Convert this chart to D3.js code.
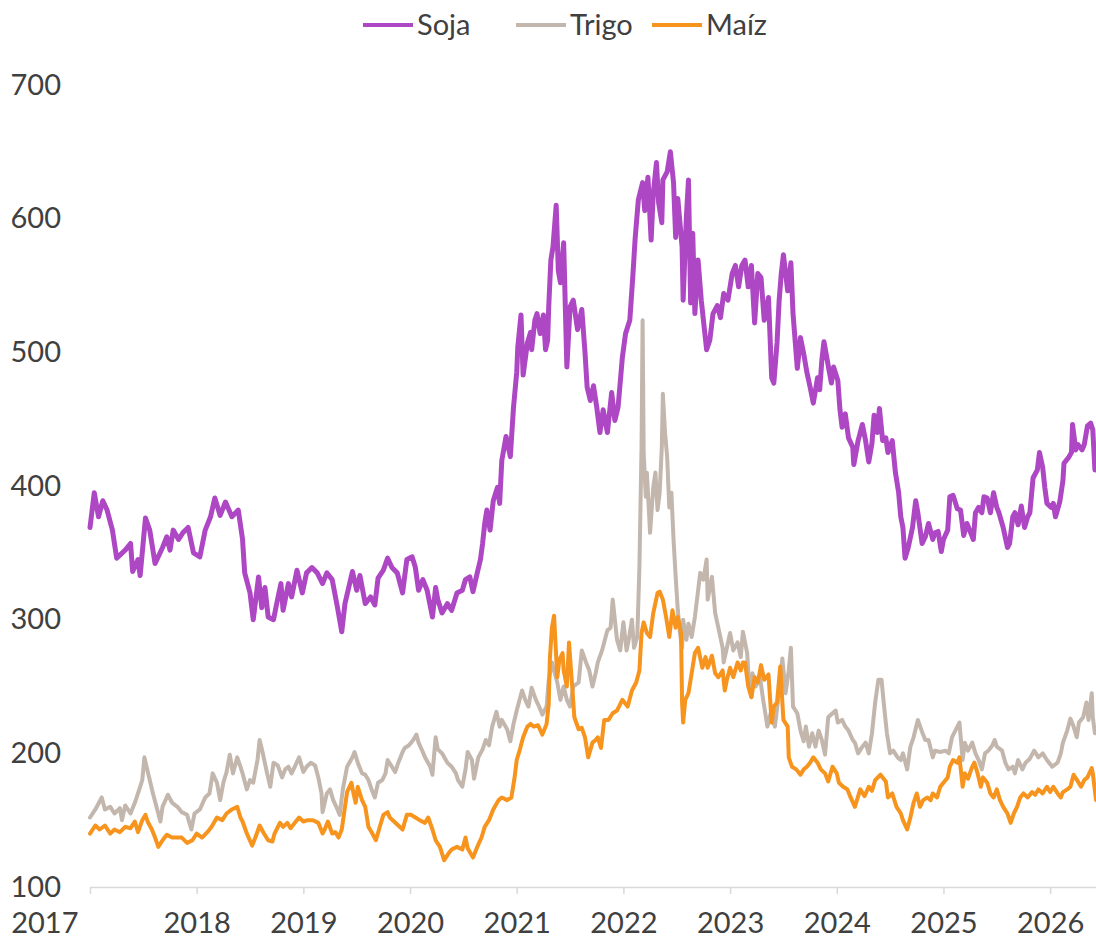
<!DOCTYPE html>
<html>
<head>
<meta charset="utf-8">
<script src="https://cdn.jsdelivr.net/npm/d3@7"></script>
<style>
  body { margin: 0; background: #fff; }
  svg { display: block; font-family: Lato, "Open Sans", sans-serif; }
</style>
</head>
<body>
<div id="app"></div>
<script>
// series names (legend order)
const series = ["Soja", "Trigo", "Maíz"]
const colors = ["#ae47c4", "#c3b6ac", "#f7941d"]

// [year, USD/t]
const soja = [
  [2017.00,369],[2017.04,395],[2017.08,377],[2017.12,389],[2017.16,382],[2017.21,367],[2017.25,346],[2017.33,352],
  [2017.38,357],[2017.40,336],[2017.45,345],[2017.47,333],[2017.52,376],[2017.56,367],[2017.61,342],[2017.68,354],
  [2017.72,362],[2017.75,352],[2017.78,367],[2017.83,360],[2017.87,365],[2017.92,369],[2017.97,350],[2018.03,347],
  [2018.08,367],[2018.13,377],[2018.17,391],[2018.22,378],[2018.27,388],[2018.33,377],[2018.39,382],[2018.43,360],
  [2018.45,335],[2018.50,320],[2018.53,300],[2018.58,332],[2018.61,309],[2018.64,324],[2018.67,302],[2018.72,300],
  [2018.75,312],[2018.79,327],[2018.81,307],[2018.86,327],[2018.89,317],[2018.94,337],[2018.99,320],[2019.03,335],
  [2019.08,339],[2019.13,335],[2019.18,327],[2019.22,335],[2019.27,330],[2019.32,309],[2019.36,291],[2019.39,312],
  [2019.46,336],[2019.50,322],[2019.53,333],[2019.58,312],[2019.63,317],[2019.67,311],[2019.70,331],[2019.75,337],
  [2019.79,346],[2019.83,339],[2019.88,335],[2019.93,320],[2019.97,345],[2020.02,347],[2020.05,339],[2020.08,322],
  [2020.12,330],[2020.16,322],[2020.21,302],[2020.24,324],[2020.26,315],[2020.30,305],[2020.35,312],[2020.39,307],
  [2020.44,320],[2020.49,322],[2020.52,330],[2020.56,332],[2020.59,321],[2020.63,335],[2020.66,345],[2020.68,357],
  [2020.70,372],[2020.72,382],[2020.75,367],[2020.78,389],[2020.82,399],[2020.84,387],[2020.86,419],[2020.90,437],
  [2020.94,422],[2020.97,459],[2021.00,485],[2021.01,504],[2021.04,528],[2021.06,483],[2021.10,507],[2021.13,515],
  [2021.14,502],[2021.17,524],[2021.19,529],[2021.22,514],[2021.25,528],[2021.27,502],[2021.29,509],[2021.30,534],
  [2021.32,569],[2021.34,579],[2021.37,610],[2021.39,561],[2021.41,552],[2021.44,582],[2021.47,489],[2021.50,534],
  [2021.53,539],[2021.57,517],[2021.61,532],[2021.64,500],[2021.66,474],[2021.69,464],[2021.72,475],[2021.75,459],
  [2021.78,440],[2021.81,457],[2021.85,440],[2021.89,470],[2021.92,449],[2021.95,459],[2021.99,496],[2022.02,514],
  [2022.06,524],[2022.09,559],[2022.11,585],[2022.14,614],[2022.18,627],[2022.20,606],[2022.23,631],[2022.26,584],
  [2022.28,619],[2022.31,642],[2022.33,612],[2022.36,597],[2022.37,629],[2022.41,635],[2022.44,650],[2022.47,627],
  [2022.49,586],[2022.51,615],[2022.55,579],[2022.56,539],[2022.59,601],[2022.61,629],[2022.63,537],[2022.65,589],
  [2022.67,529],[2022.70,569],[2022.73,539],[2022.75,524],[2022.78,502],[2022.81,509],[2022.84,529],[2022.88,535],
  [2022.91,526],[2022.94,544],[2022.98,539],[2023.02,559],[2023.05,565],[2023.08,549],[2023.11,565],[2023.14,569],
  [2023.17,549],[2023.20,565],[2023.23,522],[2023.26,559],[2023.29,556],[2023.32,524],[2023.36,541],[2023.39,481],
  [2023.41,477],[2023.44,507],[2023.46,539],[2023.48,559],[2023.50,573],[2023.54,546],[2023.57,567],[2023.59,529],
  [2023.63,488],[2023.66,511],[2023.69,499],[2023.72,485],[2023.75,474],[2023.78,462],[2023.82,481],[2023.84,472],
  [2023.86,494],[2023.88,508],[2023.92,490],[2023.95,477],[2023.97,489],[2024.01,479],[2024.03,457],[2024.05,444],
  [2024.08,454],[2024.11,436],[2024.15,429],[2024.16,416],[2024.20,434],[2024.24,446],[2024.27,434],[2024.30,418],
  [2024.33,432],[2024.35,453],[2024.38,440],[2024.40,458],[2024.43,434],[2024.46,436],[2024.48,425],[2024.52,434],
  [2024.55,410],[2024.58,395],[2024.60,377],[2024.62,369],[2024.64,346],[2024.67,354],[2024.71,369],[2024.74,389],
  [2024.76,380],[2024.80,357],[2024.83,362],[2024.86,372],[2024.90,360],[2024.92,365],[2024.95,366],[2024.98,351],
  [2025.00,360],[2025.04,367],[2025.06,392],[2025.09,393],[2025.13,383],[2025.16,382],[2025.19,363],[2025.22,372],
  [2025.25,366],[2025.28,360],[2025.30,380],[2025.33,384],[2025.36,380],[2025.38,392],[2025.41,391],[2025.44,380],
  [2025.47,395],[2025.50,384],[2025.52,380],[2025.56,369],[2025.60,354],[2025.62,357],[2025.65,377],[2025.67,380],
  [2025.70,371],[2025.73,385],[2025.76,369],[2025.79,377],[2025.81,380],[2025.84,406],[2025.88,412],[2025.90,425],
  [2025.93,414],[2025.95,399],[2025.97,387],[2026.01,384],[2026.03,387],[2026.05,377],[2026.09,388],[2026.12,404],
  [2026.13,417],[2026.17,421],[2026.20,425],[2026.21,446],[2026.24,427],[2026.26,431],[2026.30,427],[2026.32,431],
  [2026.35,445],[2026.38,447],[2026.40,442],[2026.42,412]
]

const trigo = [
  [2017.00,152],[2017.05,158],[2017.11,167],[2017.14,158],[2017.19,160],[2017.23,155],[2017.28,159],[2017.30,150],
  [2017.33,161],[2017.38,155],[2017.42,163],[2017.45,170],[2017.49,180],[2017.51,197],[2017.53,190],[2017.56,180],
  [2017.59,170],[2017.63,158],[2017.66,149],[2017.68,160],[2017.73,169],[2017.77,163],[2017.82,160],[2017.86,156],
  [2017.91,154],[2017.95,143],[2017.98,155],[2018.03,158],[2018.08,167],[2018.12,170],[2018.15,185],[2018.19,178],
  [2018.22,165],[2018.25,178],[2018.28,186],[2018.31,199],[2018.34,185],[2018.38,197],[2018.41,190],[2018.43,185],
  [2018.47,173],[2018.50,180],[2018.53,178],[2018.57,195],[2018.59,210],[2018.62,200],[2018.66,185],[2018.69,175],
  [2018.72,193],[2018.76,191],[2018.80,182],[2018.83,188],[2018.86,190],[2018.89,185],[2018.92,190],[2018.96,197],
  [2019.00,186],[2019.03,190],[2019.07,193],[2019.11,191],[2019.14,182],[2019.17,170],[2019.18,156],[2019.22,170],
  [2019.25,173],[2019.28,165],[2019.32,158],[2019.34,154],[2019.37,173],[2019.41,190],[2019.46,197],[2019.48,201],
  [2019.51,193],[2019.55,185],[2019.58,184],[2019.61,180],[2019.64,173],[2019.67,167],[2019.70,178],[2019.74,180],
  [2019.77,185],[2019.79,195],[2019.83,190],[2019.86,186],[2019.89,193],[2019.93,201],[2019.95,204],[2019.99,206],
  [2020.03,210],[2020.06,214],[2020.08,208],[2020.12,201],[2020.14,197],[2020.19,190],[2020.21,184],[2020.24,212],
  [2020.26,203],[2020.30,200],[2020.35,193],[2020.39,190],[2020.43,185],[2020.45,180],[2020.49,175],[2020.52,188],
  [2020.54,201],[2020.58,195],[2020.60,181],[2020.64,197],[2020.68,203],[2020.71,210],[2020.74,206],[2020.77,220],
  [2020.81,231],[2020.84,220],[2020.86,225],[2020.91,218],[2020.94,209],[2020.97,222],[2021.00,232],[2021.05,247],
  [2021.08,240],[2021.11,235],[2021.14,249],[2021.18,240],[2021.21,235],[2021.24,229],[2021.28,235],[2021.30,255],
  [2021.33,268],[2021.38,253],[2021.41,240],[2021.44,250],[2021.47,240],[2021.50,235],[2021.53,250],[2021.58,253],
  [2021.61,277],[2021.65,268],[2021.68,262],[2021.71,250],[2021.74,260],[2021.76,268],[2021.80,277],[2021.85,292],
  [2021.88,294],[2021.90,315],[2021.92,300],[2021.94,285],[2021.97,277],[2022.00,298],[2022.03,277],[2022.05,285],
  [2022.08,300],[2022.10,279],[2022.13,287],[2022.15,339],[2022.17,429],[2022.18,524],[2022.19,425],[2022.21,392],
  [2022.22,410],[2022.25,365],[2022.28,399],[2022.30,410],[2022.32,382],[2022.34,395],[2022.36,429],[2022.37,469],
  [2022.39,440],[2022.41,422],[2022.43,384],[2022.45,395],[2022.47,360],[2022.49,332],[2022.51,307],[2022.53,290],
  [2022.55,279],[2022.56,300],[2022.59,285],[2022.61,297],[2022.64,287],[2022.67,302],[2022.69,315],[2022.72,335],
  [2022.75,330],[2022.78,345],[2022.79,315],[2022.83,332],[2022.86,305],[2022.89,294],[2022.93,279],[2022.94,268],
  [2022.97,279],[2023.00,290],[2023.03,277],[2023.07,283],[2023.10,272],[2023.12,291],[2023.16,275],[2023.18,250],
  [2023.20,242],[2023.21,260],[2023.24,250],[2023.28,257],[2023.31,240],[2023.35,220],[2023.38,230],[2023.42,220],
  [2023.45,240],[2023.49,271],[2023.52,245],[2023.55,262],[2023.57,279],[2023.59,235],[2023.63,230],[2023.66,217],
  [2023.69,209],[2023.71,220],[2023.74,205],[2023.77,215],[2023.80,205],[2023.83,217],[2023.86,210],[2023.89,199],
  [2023.92,227],[2023.96,230],[2023.99,232],[2024.01,223],[2024.05,225],[2024.08,220],[2024.11,217],[2024.15,210],
  [2024.17,208],[2024.20,200],[2024.24,205],[2024.27,208],[2024.30,200],[2024.33,215],[2024.36,238],[2024.39,255],
  [2024.42,255],[2024.44,238],[2024.47,215],[2024.50,200],[2024.53,202],[2024.57,197],[2024.60,195],[2024.62,200],
  [2024.66,188],[2024.69,205],[2024.72,212],[2024.76,225],[2024.80,216],[2024.83,210],[2024.86,210],[2024.90,197],
  [2024.92,202],[2024.97,201],[2025.02,202],[2025.05,200],[2025.08,212],[2025.13,220],[2025.15,223],[2025.18,195],
  [2025.20,208],[2025.23,202],[2025.27,208],[2025.30,200],[2025.33,195],[2025.36,188],[2025.39,200],[2025.42,202],
  [2025.46,206],[2025.48,210],[2025.50,205],[2025.55,202],[2025.58,193],[2025.61,188],[2025.65,190],[2025.67,185],
  [2025.70,195],[2025.74,188],[2025.77,193],[2025.81,196],[2025.85,202],[2025.89,197],[2025.93,200],[2025.97,195],
  [2026.02,190],[2026.07,193],[2026.10,200],[2026.12,208],[2026.16,217],[2026.19,226],[2026.22,220],[2026.25,212],
  [2026.27,223],[2026.31,227],[2026.34,238],[2026.36,225],[2026.39,245],[2026.40,227],[2026.42,215]
]

const maiz = [
  [2017.00,140],[2017.05,146],[2017.09,143],[2017.14,146],[2017.19,140],[2017.23,143],[2017.28,141],[2017.33,145],
  [2017.38,144],[2017.42,149],[2017.45,141],[2017.49,150],[2017.52,154],[2017.54,149],[2017.58,143],[2017.61,137],
  [2017.64,130],[2017.68,135],[2017.72,139],[2017.77,137],[2017.82,137],[2017.86,137],[2017.91,133],[2017.96,135],
  [2018.00,140],[2018.05,137],[2018.10,141],[2018.14,145],[2018.19,152],[2018.24,150],[2018.28,155],[2018.33,158],
  [2018.38,160],[2018.41,152],[2018.43,149],[2018.47,140],[2018.52,131],[2018.55,137],[2018.59,146],[2018.63,140],
  [2018.67,135],[2018.71,134],[2018.73,140],[2018.78,148],[2018.81,145],[2018.85,148],[2018.88,144],[2018.92,148],
  [2018.96,152],[2019.00,149],[2019.04,150],[2019.09,150],[2019.14,148],[2019.18,140],[2019.20,143],[2019.23,149],
  [2019.27,140],[2019.30,141],[2019.33,137],[2019.36,143],[2019.39,160],[2019.41,171],[2019.45,178],[2019.47,170],
  [2019.49,163],[2019.51,175],[2019.55,165],[2019.58,160],[2019.61,145],[2019.64,141],[2019.68,135],[2019.72,146],
  [2019.75,154],[2019.79,156],[2019.81,152],[2019.85,149],[2019.89,146],[2019.93,143],[2019.97,154],[2020.01,154],
  [2020.05,152],[2020.09,150],[2020.14,148],[2020.17,152],[2020.21,143],[2020.24,135],[2020.28,130],[2020.32,120],
  [2020.36,125],[2020.39,128],[2020.44,130],[2020.49,128],[2020.52,137],[2020.54,129],[2020.59,122],[2020.63,130],
  [2020.67,137],[2020.70,145],[2020.74,150],[2020.78,158],[2020.83,165],[2020.86,167],[2020.91,165],[2020.95,167],
  [2020.98,182],[2021.00,195],[2021.03,203],[2021.06,212],[2021.10,220],[2021.13,222],[2021.16,220],[2021.20,221],
  [2021.24,214],[2021.28,222],[2021.30,237],[2021.31,270],[2021.33,294],[2021.35,303],[2021.38,257],[2021.40,270],
  [2021.43,275],[2021.44,262],[2021.47,250],[2021.49,283],[2021.52,250],[2021.54,227],[2021.58,218],[2021.61,219],
  [2021.64,212],[2021.67,197],[2021.71,208],[2021.74,210],[2021.76,212],[2021.79,204],[2021.82,225],[2021.86,225],
  [2021.90,230],[2021.94,232],[2021.99,240],[2022.04,235],[2022.08,247],[2022.12,253],[2022.15,262],[2022.17,290],
  [2022.19,298],[2022.22,290],[2022.25,287],[2022.28,305],[2022.32,320],[2022.34,321],[2022.37,315],[2022.40,302],
  [2022.43,287],[2022.46,307],[2022.49,294],[2022.51,302],[2022.54,290],[2022.55,238],[2022.56,223],[2022.58,240],
  [2022.61,245],[2022.64,260],[2022.67,275],[2022.70,279],[2022.74,264],[2022.77,272],[2022.79,264],[2022.83,273],
  [2022.86,260],[2022.89,257],[2022.93,262],[2022.95,247],[2022.97,255],[2023.00,264],[2023.03,257],[2023.07,268],
  [2023.10,262],[2023.12,268],[2023.14,268],[2023.17,250],[2023.20,242],[2023.23,257],[2023.26,253],[2023.29,266],
  [2023.32,255],[2023.36,259],[2023.39,223],[2023.41,235],[2023.44,238],[2023.47,265],[2023.50,225],[2023.54,220],
  [2023.55,197],[2023.58,190],[2023.62,188],[2023.66,184],[2023.69,188],[2023.72,190],[2023.75,193],[2023.78,197],
  [2023.82,193],[2023.85,188],[2023.89,185],[2023.92,179],[2023.96,190],[2024.00,185],[2024.02,178],[2024.06,175],
  [2024.10,173],[2024.13,167],[2024.17,160],[2024.22,173],[2024.26,168],[2024.30,175],[2024.33,172],[2024.36,180],
  [2024.41,184],[2024.46,179],[2024.48,167],[2024.52,170],[2024.56,160],[2024.60,155],[2024.62,150],[2024.66,143],
  [2024.69,152],[2024.72,163],[2024.75,170],[2024.78,160],[2024.81,165],[2024.85,167],[2024.88,165],[2024.90,170],
  [2024.94,167],[2024.97,175],[2025.00,178],[2025.04,182],[2025.06,190],[2025.09,195],[2025.13,193],[2025.15,197],
  [2025.18,175],[2025.20,185],[2025.23,181],[2025.27,190],[2025.29,193],[2025.32,185],[2025.35,175],[2025.37,182],
  [2025.41,178],[2025.44,170],[2025.47,167],[2025.50,173],[2025.53,165],[2025.56,160],[2025.60,155],[2025.63,148],
  [2025.66,155],[2025.69,160],[2025.72,167],[2025.75,170],[2025.79,167],[2025.83,171],[2025.86,169],[2025.89,173],
  [2025.93,170],[2025.97,175],[2026.00,171],[2026.03,175],[2026.07,170],[2026.10,167],[2026.12,171],[2026.16,173],
  [2026.19,175],[2026.22,184],[2026.26,179],[2026.29,175],[2026.32,180],[2026.35,182],[2026.39,189],[2026.40,185],
  [2026.43,165]
]

const years = [2017, 2018, 2019, 2020, 2021, 2022, 2023, 2024, 2025, 2026]
const yTicks = [100, 200, 300, 400, 500, 600, 700]

const width = 1096
const height = 942
const marginLeft = 90
const marginRight = 0
const marginTop = 85
const marginBottom = 55
const fontSize = 29

const x = d3.scaleLinear()
  .domain([2017, 2026.43])
  .range([marginLeft, width - marginRight])

const y = d3.scaleLinear()
  .domain([100, 700])
  .range([height - marginBottom, marginTop])

const svg = d3.select('#app')
  .append('svg')
  .attr('width', width)
  .attr('height', height)

// y axis: labels only
const yAxis = svg.append('g')
  .attr('transform', `translate(${marginLeft - 29},0)`)
  .call(d3.axisLeft(y).tickValues(yTicks).tickSize(0).tickPadding(0))
yAxis.select('.domain').remove()
yAxis.selectAll('text')
  .attr('font-size', fontSize)
  .attr('fill', '#404040')
  .attr('font-family', 'Lato, sans-serif')

// x axis
const xAxis = svg.append('g')
  .attr('transform', `translate(0,${y(100)})`)
  .call(d3.axisBottom(x).tickValues(years).tickFormat(d => d).tickSize(7).tickSizeOuter(0))
xAxis.select('.domain').attr('stroke', '#d9d9d9').attr('stroke-width', 1.5)
xAxis.selectAll('.tick line').attr('stroke', '#d9d9d9').attr('stroke-width', 1.5)
xAxis.selectAll('.tick text')
  .attr('y', 46)
  .attr('dy', null)
  .attr('x', d => d === years[0] ? -12 : 0)
  .attr('text-anchor', d => d === years[0] ? 'end' : 'middle')
  .attr('font-size', fontSize)
  .attr('fill', '#404040')
  .attr('font-family', 'Lato, sans-serif')

const line = d3.line()
  .x(d => x(d[0]))
  .y(d => y(d[1]))

const data = [soja, trigo, maiz]
const widths = [5, 4, 4]

svg.append('g')
  .selectAll('path')
  .data(data)
  .join('path')
  .attr('d', line)
  .attr('fill', 'none')
  .attr('stroke', (d, i) => colors[i])
  .attr('stroke-width', (d, i) => widths[i])
  .attr('stroke-linejoin', 'round')
  .attr('stroke-linecap', 'round')

// legend
const legendX = [363, 516, 652]
const legend = svg.append('g')
  .selectAll('g')
  .data(series)
  .join('g')
  .attr('transform', (d, i) => `translate(${legendX[i]},25)`)

legend.append('line')
  .attr('x1', 0)
  .attr('x2', 50)
  .attr('stroke', (d, i) => colors[i])
  .attr('stroke-width', 4)

legend.append('text')
  .attr('x', 54)
  .attr('dy', '0.35em')
  .attr('font-size', fontSize)
  .attr('fill', '#404040')
  .text(d => d)
</script>
</body>
</html>
